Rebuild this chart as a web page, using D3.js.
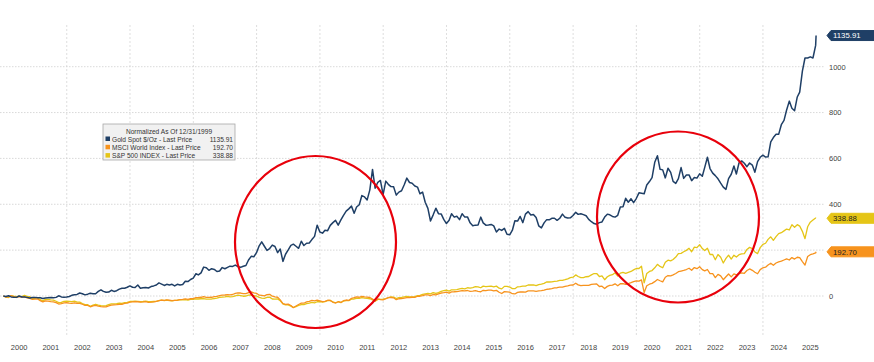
<!DOCTYPE html>
<html>
<head>
<meta charset="utf-8">
<script src="https://cdn.jsdelivr.net/npm/d3@7"></script>
<style>
  body { margin: 0; background: #fff; }
  text { font-family: "Liberation Sans", Arial, sans-serif; }
</style>
</head>
<body>
<svg id="chart"></svg>
<script>
// normalized % change since 12/31/1999, month-end readings Jan 2000 .. Aug 2025
const goldVals = [0,
  -2, 1, -4, -5, -6, 0, -4, -4, -6, -9, -7, -6,
  -8, -8, -11, -9, -8, -7, -8, -6, 1, -4, -5, -4,
  -2, 3, 5, 7, 13, 10, 5, 8, 12, 10, 10, 20,
  27, 20, 16, 17, 25, 20, 23, 30, 34, 34, 38, 44,
  38, 37, 48, 34, 36, 37, 35, 41, 44, 48, 57, 52,
  46, 51, 48, 51, 44, 51, 48, 50, 64, 63, 72, 78,
  97, 92, 101, 126, 123, 112, 119, 116, 107, 109, 124, 119,
  125, 130, 129, 135, 128, 125, 130, 133, 157, 173, 171, 189,
  219, 236, 217, 199, 207, 222, 216, 189, 205, 151, 182, 201,
  221, 226, 217, 208, 239, 220, 230, 231, 246, 260, 309, 279,
  274, 287, 285, 308, 320, 330, 309, 332, 352, 370, 380, 392,
  361, 388, 398, 438, 432, 419, 463, 552, 470, 496, 504, 442,
  501, 487, 477, 476, 440, 453, 459, 485, 514, 495, 492, 480,
  475, 446, 453, 409, 382, 327, 354, 383, 359, 358, 334, 316,
  330, 359, 344, 348, 333, 359, 344, 345, 319, 306, 309, 310,
  344, 319, 309, 310, 312, 306, 279, 292, 286, 295, 269, 267,
  287, 328, 327, 347, 320, 357, 368, 353, 355, 342, 306, 297,
  319, 332, 332, 339, 339, 330, 339, 357, 343, 340, 341, 351,
  365, 356, 359, 355, 350, 334, 324, 316, 313, 320, 323, 344,
  357, 354, 347, 344, 352, 388, 389, 426, 409, 424, 407, 425,
  450, 448, 446, 484, 499, 516, 583, 612, 553, 550, 515, 557,
  539, 500, 491, 512, 560, 513, 528, 528, 503, 517, 514, 533,
  522, 561, 605, 556, 536, 525, 511, 492, 475, 465, 512, 531,
  567, 532, 581, 589, 579, 564, 580, 571, 540, 586, 605, 614,
  606, 607, 672, 691, 705, 705, 747, 766, 811, 850, 819, 808,
  868, 889, 981, 1038, 1038, 1043, 1038, 1093,
  1135.91];

const msciVals = [0,
  -4.5, -4, 1.5, -3.5, -5.5, -3, -5, -2.5, -8, -10, -15, -14,
  -13, -20.5, -26, -21, -22, -24.5, -25.5, -29, -35, -33.5, -30, -29.5,
  -31.5, -32.5, -29.5, -32, -32, -36, -41, -41, -47, -43, -40.5, -44.3,
  -46, -47, -47.5, -43, -40, -39, -38, -36.5, -36, -32.5, -31.5, -27.1,
  -26, -24.8, -25, -26.5, -26, -25, -27.5, -27, -25.5, -23.5, -20, -17.7,
  -19.5, -17, -18.5, -20.5, -19, -18.5, -15.5, -15, -12.5, -15, -12, -11.5,
  -7.5, -7, -5.5, -2.5, -6, -6, -5.5, -3, -1.5, 2, 4, 4.4,
  5.5, 5, 6.5, 11, 13.5, 13, 10.5, 10, 14.5, 18.2, 13.5, 11.8,
  3.5, 2.5, 0.5, 6, 7.5, -1, -3.5, -5.5, -17, -33, -36.5, -35.3,
  -41.5, -51, -43.5, -37, -31, -31.5, -25.5, -23, -19.5, -21.5, -18, -20.8,
  -24.5, -23.5, -18.5, -19.5, -27.5, -30.5, -25, -28, -20.5, -17.5, -19.5, -9.9,
  -7.5, -4, -5.5, -1.5, -3.5, -5, -6.5, -13.5, -21.5, -13, -15.5, -16.7,
  -12, -7.5, -6.5, -8, -16, -12, -11, -9, -7, -6.5, -5.5, -5.8,
  -1, -1, 1.5, 4.5, 4.5, 1.5, 6.5, 4.5, 9, 13, 14.5, 16.9,
  12.5, 18, 18.5, 19.5, 21.5, 23.5, 22, 24, 20.5, 21, 23, 20.3,
  18.5, 25, 23, 25.5, 25.5, 22.5, 24.5, 16.5, 11, 19, 18, 17,
  10, 9, 16, 17.5, 18, 17, 22, 22, 22.5, 20.5, 22, 23.2,
  26, 29, 30.5, 32.5, 35.5, 36, 39, 39, 42, 44.5, 47.5, 48,
  55.5, 48.5, 45, 46.5, 46.5, 46, 50.5, 52, 52.5, 41.5, 43, 32.6,
  42, 46, 47.5, 53, 44.5, 53.5, 54, 50.5, 54, 58, 62.5, 65.9,
  65, 70, 15, 44.5, 51.5, 55, 62.5, 72, 66.5, 61.5, 82, 89.3,
  88, 92.5, 98, 106, 109, 112, 115.5, 121, 112, 124, 119, 127.4,
  115, 109.5, 115.5, 98, 98, 80, 94.5, 88, 71, 84, 96, 83.2,
  96.5, 92, 97.5, 101, 99, 111, 118, 112, 103.5, 97, 115, 123,
  125.5, 135.5, 143, 134, 144, 148.5, 152, 157, 162, 157, 167.5, 161,
  169, 167, 150, 135, 172, 180, 183.5, 188,
  192.70];

const spxVals = [0,
  -5, -7, 2, -1, -3, -1, -3, 3, -2, -3, -11, -10,
  -7, -16, -21, -15, -15, -17, -18, -23, -29, -28, -23, -22,
  -23, -25, -22, -27, -27, -33, -38, -38, -45, -40, -36, -40,
  -42, -43, -42, -38, -34, -34, -33, -31, -32, -29, -28, -24,
  -23, -22, -23, -25, -24, -22, -25, -25, -24, -23, -20, -18,
  -20, -18, -20, -21, -19, -19, -16, -17, -16, -18, -15, -15,
  -13, -13, -12, -11, -14, -14, -13, -11, -9, -6, -5, -4,
  -2, -4, -3, 1, 4, 2, -1, 0, 4, 5, 1, 0,
  -6, -9, -10, -6, -5, -13, -14, -13, -21, -34, -39, -39,
  -44, -50, -46, -41, -38, -38, -33, -31, -28, -30, -25, -24,
  -27, -25, -20, -19, -26, -30, -25, -29, -22, -20, -20, -14,
  -13, -10, -10, -7, -9, -10, -12, -17, -23, -15, -15, -14,
  -11, -7, -4, -5, -11, -7, -6, -4, -2, -4, -4, -3,
  2, 3, 7, 9, 11, 9, 15, 11, 15, 20, 23, 26,
  21, 27, 27, 28, 31, 33, 31, 36, 34, 37, 41, 40,
  36, 43, 41, 42, 43, 40, 43, 34, 31, 42, 42, 39,
  32, 32, 40, 41, 43, 43, 48, 48, 48, 45, 50, 52,
  55, 61, 61, 62, 64, 65, 68, 68, 71, 75, 80, 82,
  92, 85, 80, 80, 84, 85, 92, 98, 98, 85, 88, 71,
  84, 90, 93, 101, 87, 100, 103, 99, 103, 107, 114, 120,
  120, 130, 57, 98, 107, 111, 123, 138, 129, 123, 147, 156,
  153, 159, 170, 185, 186, 193, 199, 208, 193, 213, 211, 224,
  207, 198, 208, 181, 181, 158, 181, 169, 144, 164, 178, 161,
  178, 170, 180, 184, 185, 203, 212, 207, 192, 185, 211, 225,
  230, 247, 258, 243, 259, 272, 276, 284, 292, 288, 311, 300,
  311, 305, 282, 250, 302, 322, 331, 340,
  338.88];

const seriesNames = ['Gold Spot $/Oz - Last Price', 'MSCI World Index - Last Price', 'S&P 500 INDEX - Last Price'];
const lastLabels = ['1135.91', '192.70', '338.88'];
const yGridTicks = [0, 200, 400, 600, 800, 1000];
const yLabelTicks = [0, 400, 600, 800, 1000]; // 200 sits under the MSCI tag
const yearLabels = d3.range(2000, 2026);
const lastDate = new Date(2025, 8, 5);

const W = 874, H = 362;
const colors = { gold: '#1f3f66', msci: '#f7931e', spx: '#e5c517' };

const svg = d3.select('#chart').attr('width', W).attr('height', H);

const x = d3.scaleTime()
  .domain([new Date(2000, 0, 1), new Date(2026, 0, 1)])
  .range([3.4, 826.3]);
const y = d3.scaleLinear().domain([0, 1000]).range([296, 66.7]);

// month ends, first point is the normalization date 12/31/1999
const dateAt = (i, n) => i === n - 1 ? lastDate : new Date(2000, i, 0);

// grid
const vGrid = x.ticks(d3.timeYear.every(2)).filter(d => d.getFullYear() >= 2002 && d.getFullYear() <= 2024);
svg.append('g').selectAll('line').data(vGrid).enter().append('line')
  .attr('x1', d => x(d)).attr('x2', d => x(d))
  .attr('y1', 25).attr('y2', 335)
  .attr('stroke', '#d6d6d6').attr('stroke-width', 0.8)
  .attr('stroke-dasharray', '2,2');

svg.append('g').selectAll('line').data(yGridTicks).enter().append('line')
  .attr('x1', 0).attr('x2', 824)
  .attr('y1', d => y(d)).attr('y2', d => y(d))
  .attr('stroke', '#cfcfcf').attr('stroke-width', 0.8)
  .attr('stroke-dasharray', '1.5,1.5');

// y axis on the right
const yAxis = d3.axisRight(y).tickValues(yLabelTicks).tickFormat(d3.format('d')).tickSize(0).tickPadding(0);
svg.append('g').attr('transform', 'translate(829,0)').call(yAxis)
  .call(g => g.select('.domain').remove())
  .call(g => g.selectAll('text').attr('fill', '#444').style('font-size', '7.5px')
    .style('font-family', '"Liberation Sans", Arial, sans-serif'));

// year labels at mid-year
svg.append('g').selectAll('text').data(yearLabels).enter().append('text')
  .attr('x', d => x(new Date(d, 6, 1)))
  .attr('y', 350)
  .attr('text-anchor', 'middle')
  .attr('fill', '#444')
  .style('font-size', '7.5px')
  .text(d => d);

// series
const line = d3.line()
  .x(d => x(d.date))
  .y(d => y(d.value));

const series = [
  { key: 'spx', values: spxVals, w: 1.3 },
  { key: 'msci', values: msciVals, w: 1.3 },
  { key: 'gold', values: goldVals, w: 1.5 }
];

series.forEach(s => {
  const pts = s.values.map((v, i) => ({ date: dateAt(i, s.values.length), value: v }));
  svg.append('path')
    .datum(pts)
    .attr('fill', 'none')
    .attr('stroke', colors[s.key])
    .attr('stroke-width', s.w)
    .attr('stroke-linejoin', 'round')
    .attr('d', line);
});

// red circles
const rings = [
  { cx: 315.5, cy: 242, rx: 80.5, ry: 86 },
  { cx: 678, cy: 217, rx: 81, ry: 85.5 }
];
svg.append('g').selectAll('ellipse').data(rings).enter().append('ellipse')
  .attr('cx', d => d.cx).attr('cy', d => d.cy)
  .attr('rx', d => d.rx).attr('ry', d => d.ry)
  .attr('fill', 'none').attr('stroke', '#e8000b').attr('stroke-width', 2.2);

// legend
const leg = svg.append('g').attr('transform', 'translate(103,124)');
leg.append('rect').attr('width', 132).attr('height', 36)
  .attr('fill', '#f1f1f1').attr('stroke', '#a8a8a8').attr('stroke-width', 0.8);
leg.append('text').attr('x', 66).attr('y', 9.5).attr('text-anchor', 'middle')
  .attr('fill', '#333').style('font-size', '6.6px').text('Normalized As Of 12/31/1999');
const legColors = [colors.gold, colors.msci, colors.spx];
const rows = leg.selectAll('g.row').data(seriesNames).enter().append('g')
  .attr('class', 'row')
  .attr('transform', (d, i) => `translate(0,${17.5 + i * 8.3})`);
rows.append('rect').attr('x', 2.5).attr('y', -5).attr('width', 4.5).attr('height', 4.5)
  .attr('fill', (d, i) => legColors[i]);
rows.append('text').attr('x', 9).attr('y', 0).attr('fill', '#333')
  .style('font-size', '6.6px').text(d => d);
rows.append('text').attr('x', 130).attr('y', 0).attr('text-anchor', 'end').attr('fill', '#333')
  .style('font-size', '6.6px').text((d, i) => lastLabels[i]);

// last value tags
const tags = [
  { v: goldVals[goldVals.length - 1], label: lastLabels[0], fill: '#1f3f66', text: '#fff' },
  { v: msciVals[msciVals.length - 1], label: lastLabels[1], fill: '#f7931e', text: '#222' },
  { v: spxVals[spxVals.length - 1], label: lastLabels[2], fill: '#e5c517', text: '#222' }
];
const tagG = svg.append('g').selectAll('g').data(tags).enter().append('g')
  .attr('transform', d => `translate(827,${y(d.v)})`);
tagG.append('path')
  .attr('d', 'M0,0 L4,-5 L48,-5 L48,5 L4,5 Z')
  .attr('fill', d => d.fill)
  .attr('stroke', d => d.fill)
  .attr('stroke-width', 1)
  .attr('stroke-linejoin', 'round');
tagG.append('text').attr('x', 6).attr('y', 2.8)
  .attr('fill', d => d.text).style('font-size', '7.8px')
  .text(d => d.label);
</script>
</body>
</html>
